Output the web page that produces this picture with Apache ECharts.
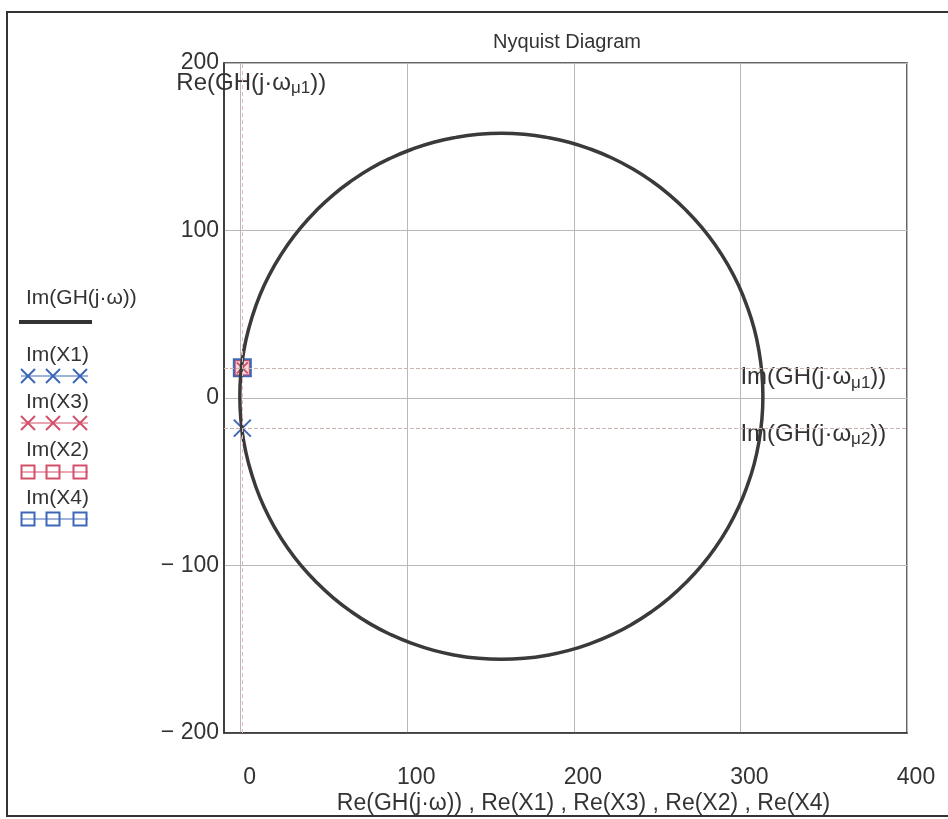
<!DOCTYPE html>
<html>
<head>
<meta charset="utf-8">
<title>Nyquist Diagram</title>
<script src="https://cdn.jsdelivr.net/npm/echarts@6/dist/echarts.min.js"></script>
<style>
  html, body { margin: 0; padding: 0; background: #fff; }
  #main { width: 948px; height: 819px; }
</style>
</head>
<body>
<div id="main"></div>
<script>
// Nyquist curve GH(jw) (every 5 degrees round the loop)
const reGH = [313.5, 312.9, 311.1, 308.2, 304.0, 298.8, 292.5, 285.1, 276.8, 267.5, 257.4, 246.6, 235.0, 222.9, 210.2, 197.1, 183.8, 170.2,
              156.5, 142.8, 129.2, 115.9, 102.8, 90.2, 78.0, 66.5, 55.6, 45.5, 36.2, 27.9, 20.5, 14.2, 9.0, 4.9, 1.9, 0.1,
              -0.5, 0.1, 1.9, 4.9, 9.0, 14.2, 20.5, 27.9, 36.2, 45.5, 55.6, 66.5, 78.0, 90.2, 102.8, 115.9, 129.2, 142.8,
              156.5, 170.2, 183.8, 197.1, 210.2, 222.9, 235.0, 246.6, 257.4, 267.5, 276.8, 285.1, 292.5, 298.8, 304.0, 308.2, 311.1, 312.9, 313.5]
const imGH = [1, 14.7, 28.3, 41.6, 54.7, 67.4, 79.5, 91.1, 101.9, 112.0, 121.3, 129.6, 137.0, 143.3, 148.5, 152.7, 155.6, 157.4,
              158, 157.4, 155.6, 152.7, 148.5, 143.3, 137.0, 129.6, 121.3, 112.0, 101.9, 91.1, 79.5, 67.4, 54.7, 41.6, 28.3, 14.7,
              1, -12.7, -26.3, -39.6, -52.7, -65.4, -77.5, -89.1, -99.9, -110.0, -119.3, -127.6, -135.0, -141.3, -146.5, -150.7, -153.6, -155.4,
              -156, -155.4, -153.6, -150.7, -146.5, -141.3, -135.0, -127.6, -119.3, -110.0, -99.9, -89.1, -77.5, -65.4, -52.7, -39.6, -26.3, -12.7, 1]

// marked points X1, X3, X2, X4
const pointRe = [1, 1, 1, 1]
const pointIm = [-18, 18, 18, 18]

// GH(j wmu1), GH(j wmu2)
const muRe = 1
const muIm = [18, -18]

const xTicks = [0, 100, 200, 300, 400]

const BLUE = '#3d68b8'
const RED = '#d4506a'
const INK = '#333'
const FONT = 'Liberation Sans, Arial, sans-serif'
const xPath = 'path://M0,0L10,10M0,10L10,0'

const chart = echarts.init(document.getElementById('main'))

function pts(i) { return [[pointRe[i], pointIm[i]]] }

// Mathcad style legend: text above a sample of the trace
const legendItems = []
function xMark(cx, cy, color) {
  legendItems.push({ type: 'line', shape: { x1: cx - 7, y1: cy - 7, x2: cx + 7, y2: cy + 7 }, style: { stroke: color, lineWidth: 2 } })
  legendItems.push({ type: 'line', shape: { x1: cx - 7, y1: cy + 7, x2: cx + 7, y2: cy - 7 }, style: { stroke: color, lineWidth: 2 } })
}
function boxMark(cx, cy, color) {
  legendItems.push({ type: 'rect', shape: { x: cx - 6.5, y: cy - 6.5, width: 13, height: 13 }, style: { fill: 'none', stroke: color, lineWidth: 2 } })
}
function legendText(txt, y) {
  legendItems.push({ type: 'text', style: { x: 26, y: y, text: txt, font: '21px ' + FONT, fill: INK, verticalAlign: 'middle' } })
}
legendText('Im(GH(j·ω))', 298)
legendItems.push({ type: 'line', shape: { x1: 19, y1: 322, x2: 92, y2: 322 }, style: { stroke: INK, lineWidth: 4 } })
const rows = [['Im(X1)', 355, 376, BLUE, 'x'], ['Im(X3)', 402, 423, RED, 'x'],
              ['Im(X2)', 450, 472, RED, 'b'], ['Im(X4)', 498, 519, BLUE, 'b']]
rows.forEach(r => {
  legendText(r[0], r[1])
  legendItems.push({ type: 'line', shape: { x1: 21, y1: r[2], x2: 88, y2: r[2] }, style: { stroke: r[3], lineWidth: 1.2 } })
  ;[28, 53, 80].forEach(cx => r[4] === 'x' ? xMark(cx, r[2], r[3]) : boxMark(cx, r[2], r[3]))
})

const rich = {
  t: { fontSize: 24, fontFamily: FONT, color: INK, opacity: 1 },
  s: { fontSize: 17, fontFamily: FONT, color: INK, opacity: 1, padding: [11, 0, 0, 0] }
}

const option = {
  backgroundColor: '#fff',
  animation: false,
  title: {
    text: 'Nyquist Diagram',
    left: 562, top: 27, textAlign: 'center',
    textStyle: { fontFamily: FONT, fontSize: 20, fontWeight: 'normal', color: INK }
  },
  graphic: [
    { type: 'rect', shape: { x: 7, y: 12, width: 960, height: 804 }, style: { fill: 'none', stroke: INK, lineWidth: 2 } },
    ...legendItems
  ],
  grid: {
    left: 224, right: 41, top: 63, bottom: 86, containLabel: false, outerBoundsMode: 'none',
    show: true, borderColor: INK, borderWidth: 1.5
  },
  xAxis: {
    type: 'value', min: -10, max: 400,
    name: 'Re(GH(j·ω)) , Re(X1) , Re(X3) , Re(X2) , Re(X4)',
    nameLocation: 'middle', nameGap: 59, nameMoveOverlap: false,
    nameTextStyle: { fontFamily: FONT, fontSize: 23, color: INK, padding: [0, 0, 0, 36] },
    axisLine: { onZero: false, lineStyle: { color: INK, width: 1.5 } },
    axisTick: { show: false, customValues: xTicks },
    axisLabel: { customValues: xTicks, fontFamily: FONT, fontSize: 23, color: INK, margin: 33, padding: [0, 0, 0, 18] },
    splitLine: { show: true, lineStyle: { color: '#b8b8b8', width: 1 } }
  },
  yAxis: {
    type: 'value', min: -200, max: 200, interval: 100,
    axisLine: { onZero: false, lineStyle: { color: INK, width: 1.5 } },
    axisTick: { show: false },
    axisLabel: {
      fontFamily: FONT, fontSize: 23, color: INK, margin: 5,
      formatter: v => v < 0 ? '− ' + (-v) : String(v)
    },
    splitLine: { show: true, lineStyle: { color: '#b8b8b8', width: 1 } }
  },
  series: [
    {
      name: 'Im(GH(j·ω))', type: 'line', smooth: true, showSymbol: false,
      data: reGH.map((x, i) => [x, imGH[i]]),
      lineStyle: { color: '#3a3a3a', width: 3.5 },
      markLine: {
        silent: true, symbol: 'none', label: { show: false },
        lineStyle: { type: 'dashed', width: 1 },
        data: [
          { xAxis: muRe, lineStyle: { color: '#efb4bd', type: [4, 3] } },
          { yAxis: muIm[0], lineStyle: { color: '#c9b4b0' } },
          { yAxis: muIm[1], lineStyle: { color: '#c9b4b0' } }
        ]
      }
    },
    {
      name: 'Im(X2)', type: 'scatter', data: pts(2), symbol: 'rect', symbolSize: 15,
      itemStyle: { color: 'rgba(230,150,160,0.35)', borderColor: RED, borderWidth: 2, opacity: 1 }
    },
    {
      name: 'Im(X4)', type: 'scatter', data: pts(3), symbol: 'rect', symbolSize: 17,
      itemStyle: { color: 'rgba(0,0,0,0)', borderColor: BLUE, borderWidth: 2, opacity: 1 }
    },
    {
      name: 'Im(X3)', type: 'scatter', data: pts(1), symbol: xPath, symbolSize: 11,
      itemStyle: { color: 'none', borderColor: RED, borderWidth: 2, opacity: 1 }
    },
    {
      name: 'Im(X1)', type: 'scatter', data: pts(0), symbol: xPath, symbolSize: 17,
      itemStyle: { color: 'none', borderColor: BLUE, borderWidth: 2, opacity: 1 }
    },
    {
      name: 'labels', type: 'scatter', symbolSize: 0, silent: true,
      itemStyle: { opacity: 1 },
      label: { color: INK, opacity: 1 },
      data: [
        { value: [muRe, 200], label: { show: true, position: 'bottom', distance: 2, offset: [9, 4],
          formatter: '{t|Re(GH(j·ω}{s|μ1}{t|))}', rich } },
        { value: [300, muIm[0]], label: { show: true, position: 'right', distance: 0, offset: [0, 10],
          formatter: '{t|Im(GH(j·ω}{s|μ1}{t|))}', rich } },
        { value: [300, muIm[1]], label: { show: true, position: 'right', distance: 0, offset: [0, 6],
          formatter: '{t|Im(GH(j·ω}{s|μ2}{t|))}', rich } }
      ]
    }
  ]
}
chart.setOption(option)
</script>
</body>
</html>
